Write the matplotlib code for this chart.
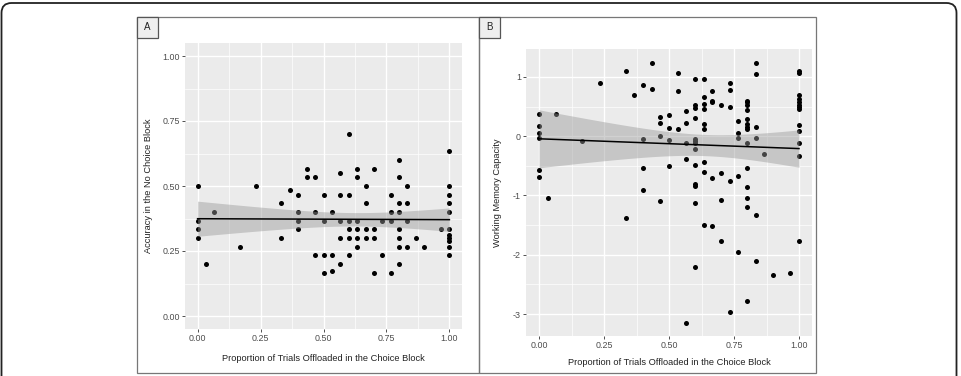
import numpy as np
import matplotlib
matplotlib.use("Agg")
import matplotlib.pyplot as plt
from matplotlib.patches import FancyBboxPatch, Rectangle
from matplotlib.transforms import IdentityTransform

plt.rcParams['font.family'] = ['Liberation Sans', 'DejaVu Sans']

# panel A: proportion offloaded vs accuracy in the no choice block
acc_x = [0, 0, 0, 0, 0.033, 0.067, 0.167, 0.233, 0.333, 0.333, 0.367,
         0.4, 0.4, 0.4, 0.4, 0.433, 0.433, 0.467, 0.467, 0.467,
         0.5, 0.5, 0.5, 0.5, 0.533, 0.533, 0.533,
         0.567, 0.567, 0.567, 0.567, 0.567,
         0.6, 0.6, 0.6, 0.6, 0.6, 0.6,
         0.633, 0.633, 0.633, 0.633, 0.633, 0.633,
         0.667, 0.667, 0.667, 0.667, 0.7, 0.7, 0.7, 0.7, 0.733, 0.733,
         0.767, 0.767, 0.767, 0.767,
         0.8, 0.8, 0.8, 0.8, 0.8, 0.8, 0.8, 0.8,
         0.833, 0.833, 0.833, 0.833, 0.867, 0.9, 0.967,
         1, 1, 1, 1, 1, 1, 1, 1, 1, 1, 1]
acc_y = [0.5, 0.367, 0.333, 0.3, 0.2, 0.4, 0.267, 0.5, 0.433, 0.3, 0.483,
         0.467, 0.4, 0.367, 0.333, 0.567, 0.533, 0.533, 0.4, 0.233,
         0.467, 0.367, 0.233, 0.167, 0.4, 0.233, 0.173,
         0.55, 0.467, 0.367, 0.3, 0.2,
         0.7, 0.467, 0.367, 0.333, 0.3, 0.233,
         0.567, 0.533, 0.367, 0.333, 0.3, 0.267,
         0.5, 0.433, 0.333, 0.3, 0.567, 0.333, 0.3, 0.167, 0.367, 0.233,
         0.467, 0.4, 0.367, 0.167,
         0.6, 0.533, 0.433, 0.4, 0.333, 0.3, 0.267, 0.2,
         0.5, 0.433, 0.367, 0.267, 0.3, 0.267, 0.333,
         0.633, 0.5, 0.467, 0.433, 0.4, 0.333, 0.31, 0.3, 0.29, 0.267, 0.233]

# panel B: proportion offloaded vs working memory capacity
wm_x = [0, 0, 0, 0, 0, 0, 0.033, 0.067, 0.167, 0.233, 0.333, 0.333, 0.367,
        0.4, 0.4, 0.4, 0.4, 0.433, 0.433,
        0.467, 0.467, 0.467, 0.467, 0.5, 0.5, 0.5, 0.5,
        0.533, 0.533, 0.533, 0.567, 0.567, 0.567, 0.567, 0.567,
        0.6, 0.6, 0.6, 0.6, 0.6, 0.6, 0.6, 0.6, 0.6, 0.6, 0.6, 0.6, 0.6,
        0.633, 0.633, 0.633, 0.633, 0.633, 0.633, 0.633, 0.633, 0.633,
        0.667, 0.667, 0.667, 0.667, 0.667, 0.7, 0.7, 0.7, 0.7,
        0.733, 0.733, 0.733, 0.733, 0.733, 0.767, 0.767, 0.767, 0.767, 0.767,
        0.8, 0.8, 0.8, 0.8, 0.8, 0.8, 0.8, 0.8, 0.8, 0.8, 0.8, 0.8, 0.8, 0.8,
        0.833, 0.833, 0.833, 0.833, 0.833, 0.833, 0.867, 0.9, 0.967,
        1, 1, 1, 1, 1, 1, 1, 1, 1, 1, 1, 1, 1]
wm_y = [0.38, 0.17, 0.06, -0.03, -0.57, -0.69, -1.05, 0.37, -0.08, 0.89,
        1.10, -1.38, 0.69,
        0.87, -0.04, -0.545, -0.905, 1.24, 0.79,
        0.33, 0.23, 0.01, -1.09, 0.35, 0.14, -0.06, -0.51,
        1.06, 0.76, 0.12, 0.43, 0.23, -0.12, -0.39, -3.15,
        0.96, 0.52, 0.48, 0.31, -0.05, -0.08, -0.11, -0.21, -0.49, -0.815,
        -0.84, -1.13, -2.21,
        0.96, 0.66, 0.55, 0.46, 0.21, 0.12, -0.44, -0.60, -1.49,
        0.76, 0.60, 0.57, -0.70, -1.51, 0.52, -0.62, -1.08, -1.77,
        0.90, 0.78, 0.49, -0.75, -2.97, 0.26, 0.05, -0.03, -0.68, -1.96,
        0.60, 0.57, 0.53, 0.44, 0.29, 0.20, 0.16, 0.12, -0.11, -0.53, -0.86,
        -1.05, -1.20, -2.78,
        1.24, 1.05, 0.16, -0.03, -1.33, -2.11, -0.30, -2.34, -2.31,
        1.10, 1.07, 0.70, 0.63, 0.58, 0.52, 0.49, 0.46, 0.19, 0.08, -0.11,
        -0.33, -1.76]

xlabel = "Proportion of Trials Offloaded in the Choice Block"
x_ticks = [0, 0.25, 0.5, 0.75, 1.0]
x_ticklabels = ["0.00", "0.25", "0.50", "0.75", "1.00"]
acc_ticks = [0, 0.25, 0.5, 0.75, 1.0]
acc_ticklabels = ["0.00", "0.25", "0.50", "0.75", "1.00"]
wm_ticks = [-3, -2, -1, 0, 1]
wm_ticklabels = ["-3", "-2", "-1", "0", "1"]


def lm_band(x, y, xs, t=1.984):
    # ordinary least squares with 95% confidence band, like geom_smooth(method="lm")
    x = np.asarray(x, float)
    y = np.asarray(y, float)
    b1, b0 = np.polyfit(x, y, 1)
    n = len(x)
    resid = y - (b0 + b1 * x)
    s = np.sqrt(np.sum(resid ** 2) / (n - 2))
    xm = x.mean()
    se = s * np.sqrt(1.0 / n + (xs - xm) ** 2 / np.sum((x - xm) ** 2))
    fit = b0 + b1 * xs
    return fit, fit - t * se, fit + t * se


W, H = 961, 376
fig = plt.figure(figsize=(W / 100, H / 100), dpi=100)


def px_axes(left, top, right, bottom):
    return fig.add_axes([left / W, 1 - bottom / H, (right - left) / W, (bottom - top) / H])


def style(ax, yticks, yticklabels, ylim, ylab, ylab_x, xlab_y):
    ax.set_facecolor("#ebebeb")
    for sp in ax.spines.values():
        sp.set_visible(False)
    ax.set_xlim(-0.05, 1.05)
    ax.set_ylim(*ylim)
    ax.set_xticks(x_ticks)
    ax.set_xticklabels(x_ticklabels)
    ax.set_xticks([0.125, 0.375, 0.625, 0.875], minor=True)
    ax.set_yticks(yticks)
    ax.set_yticklabels(yticklabels)
    minor = [(a + b) / 2 for a, b in zip(yticks[:-1], yticks[1:])]
    ax.set_yticks(minor, minor=True)
    ax.grid(True, which="major", color="white", linewidth=1.0)
    ax.grid(True, which="minor", color="white", linewidth=0.5)
    ax.set_axisbelow(True)
    ax.tick_params(which="major", length=2.2, width=0.6, color="#333333",
                   labelsize=6.4, labelcolor="#4d4d4d", pad=1.5)
    ax.tick_params(which="minor", length=0)
    ax.text(0.5, xlab_y, xlabel, transform=ax.transAxes, ha="center", va="center",
            fontsize=6.7, color="#222222")
    ax.text(ylab_x, 0.5, ylab, transform=ax.transAxes, ha="center", va="center",
            rotation=90, fontsize=6.7, color="#222222")


def draw(ax, x, y):
    ax.scatter(x, y, s=13, color="black", linewidths=0, zorder=2)
    xs = np.linspace(min(x), max(x), 80)
    fit, lo, hi = lm_band(x, y, xs)
    ax.fill_between(xs, lo, hi, color="#999999", alpha=0.45, linewidth=0, zorder=3)
    ax.plot(xs, fit, color="black", linewidth=1.1, zorder=4)


axA = px_axes(185, 43, 462, 329)
draw(axA, acc_x, acc_y)
style(axA, acc_ticks, acc_ticklabels, (-0.05, 1.05),
      "Accuracy in the No Choice Block", -0.133, -0.102)

axB = px_axes(526, 49, 812, 336)
draw(axB, wm_x, wm_y)
style(axB, wm_ticks, wm_ticklabels, (-3.37, 1.47),
      "Working Memory Capacity", -0.101, -0.094)

# outer rounded frame (top edge 3 px below the image top, bottom cut off)
ident = IdentityTransform()
fig.patches.append(FancyBboxPatch((1.5, -30), 955, H - 3 + 30,
                                  boxstyle="round,pad=0,rounding_size=10",
                                  transform=ident, fill=False,
                                  edgecolor="#222222", linewidth=1.3))
# panel boxes with the A / B tags
for left, right, lab in [(137, 479, "A"), (479, 816, "B")]:
    fig.patches.append(Rectangle((left, H - 373), right - left, 373 - 17,
                                 transform=ident, fill=False,
                                 edgecolor="#777777", linewidth=0.9))
    fig.patches.append(Rectangle((left, H - 38), 21, 21, transform=ident,
                                 facecolor="#eeeeee", edgecolor="#555555",
                                 linewidth=0.9))
    fig.text((left + 10.5) / W, 1 - 27.5 / H, lab, ha="center", va="center",
             fontsize=7, color="#222222")

fig.savefig("out.png", dpi=100)
